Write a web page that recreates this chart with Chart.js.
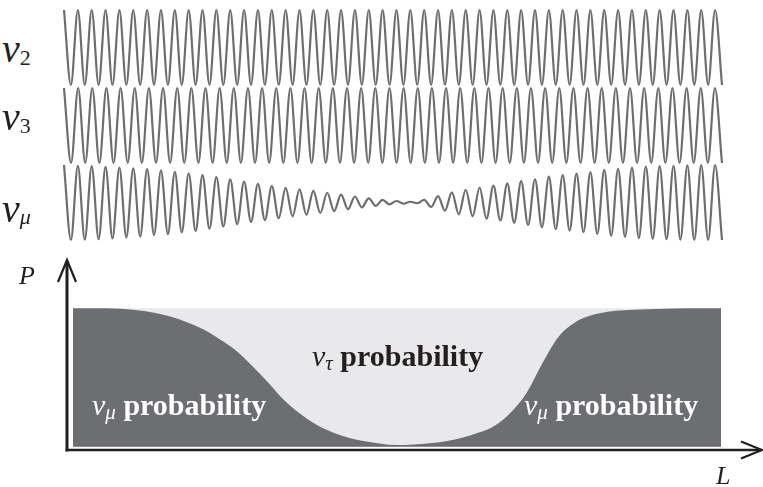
<!DOCTYPE html>
<html>
<head>
<meta charset="utf-8">
<script src="https://cdn.jsdelivr.net/npm/chart.js"></script>
<style>
  body { margin:0; background:#fff; width:763px; height:487px; overflow:hidden; position:relative; font-family:"Liberation Serif","Times New Roman",serif; }
  canvas { position:absolute; }
  .t { position:absolute; line-height:1; white-space:nowrap; color:#231f20; z-index:5; }
  .t i { font-style:italic; }
  .sub { position:relative; }
  .w { color:#fff; }
</style>
</head>
<body>
<canvas id="w2" width="666" height="95" style="left:60px;top:0px"></canvas>
<canvas id="w3" width="666" height="95" style="left:60px;top:78px"></canvas>
<canvas id="wmu" width="666" height="95" style="left:60px;top:155px"></canvas>
<canvas id="prob" width="763" height="237" style="left:0px;top:250px"></canvas>

<div class="t" style="left:2px;top:29px;font-size:40px"><i>ν</i><span class="sub" style="font-size:22px;top:3px">2</span></div>
<div class="t" style="left:2px;top:97px;font-size:40px"><i>ν</i><span class="sub" style="font-size:22px;top:3px">3</span></div>
<div class="t" style="left:2px;top:189px;font-size:40px"><i>ν</i><i class="sub" style="font-size:22px;top:2px">μ</i></div>

<div class="t" style="left:19px;top:263px;font-size:26px"><i>P</i></div>
<div class="t" style="left:716px;top:463px;font-size:26px"><i>L</i></div>

<div class="t w" style="left:92px;top:390px;font-size:30px"><i>ν</i><i class="sub" style="font-size:21px;top:4px">μ</i> <b>probability</b></div>
<div class="t w" style="left:524px;top:390px;font-size:30px"><i>ν</i><i class="sub" style="font-size:21px;top:4px">μ</i> <b>probability</b></div>
<div class="t" style="left:312px;top:341px;font-size:30px"><i>ν</i><i class="sub" style="font-size:21px;top:4px">τ</i> <b>probability</b></div>

<script>
// extrema of each wave, one value per half period (peak = 1, trough = -1)
const nu2Wave = [
  1,-1,1,-1,1,-1,1,-1,1,-1,1,-1,1,-1,1,-1,1,-1,1,-1,1,-1,1,-1,
  1,-1,1,-1,1,-1,1,-1,1,-1,1,-1,1,-1,1,-1,1,-1,1,-1,1,-1,1,-1,
  1,-1,1,-1,1,-1,1,-1,1,-1,1,-1,1,-1,1,-1,1,-1,1,-1,1,-1,1,-1,
  1,-1,1,-1,1,-1,1,-1,1,-1,1,-1,1,-1,1,-1,1,-1,1,-1,1,-1,1,-1
];
const nu3Wave = [
  1,-1,1,-1,1,-1,1,-1,1,-1,1,-1,1,-1,1,-1,1,-1,1,-1,1,-1,1,-1,
  1,-1,1,-1,1,-1,1,-1,1,-1,1,-1,1,-1,1,-1,1,-1,1,-1,1,-1,1,-1,
  1,-1,1,-1,1,-1,1,-1,1,-1,1,-1,1,-1,1,-1,1,-1,1,-1,1,-1,1,-1,
  1,-1,1,-1,1,-1,1,-1,1,-1,1,-1,1,-1,1,-1,1,-1,1,-1,1,-1
];
// nu_mu = beat of the two, read peak by peak
const numuWave = [
  1.00,-1.00,0.98,-0.99,0.97,-0.98,0.95,-0.96,0.93,-0.93,0.91,-0.91,
  0.89,-0.87,0.86,-0.84,0.82,-0.80,0.78,-0.76,0.73,-0.70,0.68,-0.64,
  0.62,-0.58,0.56,-0.52,0.50,-0.47,0.44,-0.42,0.39,-0.37,0.35,-0.33,
  0.31,-0.28,0.26,-0.23,0.21,-0.18,0.16,-0.13,0.11,-0.09,0.07,-0.05,
  0.04,-0.03,0.02,-0.02,0.07,-0.12,0.17,-0.22,0.27,-0.31,0.34,-0.37,
  0.40,-0.43,0.45,-0.48,0.51,-0.54,0.57,-0.60,0.62,-0.66,0.69,-0.71,
  0.73,-0.75,0.77,-0.79,0.81,-0.84,0.87,-0.89,0.90,-0.92,0.93,-0.95,
  0.96,-0.97,0.97,-0.98,0.98,-0.99,0.99,-1.00,1.00,-1.00,1.00,-1.00
];

// probability vs distance (L in % of the drawn length)
const distL  = [0,5,10,15,20,22.5,25,27.5,30,32.5,35,37.5,40,42.5,45,50,55,57.5,60,62.5,65,67.5,70,72.5,75,77.5,80,82.5,85,90,95,100];
const probMu = [1.0,1.0,0.985,0.94,0.85,0.78,0.70,0.59,0.47,0.34,0.24,0.16,0.105,0.065,0.04,0.012,0.025,0.04,0.065,0.10,0.15,0.245,0.39,0.61,0.80,0.90,0.95,0.975,0.985,0.995,1.0,1.0];
const probTop = [1,1];
const probTopL = [0,100];

const waveColor = '#6e6e6e';
const darkGray = '#6d6e71';
const lightGray = '#e9e9eb';
const axisColor = '#231f20';

function makeWave(id, values){
    new Chart(document.getElementById(id), {
        type:'line',
        data:{
            labels: values.map((v,i)=>i),
            datasets:[{
                data: values,
                borderColor: waveColor,
                borderWidth: 2.2,
                pointRadius: 0,
                cubicInterpolationMode: 'monotone',
                fill: false
            }]
        },
        options:{
            responsive:false,
            animation:false,
            events:[],
            layout:{ padding:{left:4, right:4, top:0, bottom:0} },
            plugins:{ legend:{display:false}, tooltip:{enabled:false} },
            scales:{
                x:{ display:false },
                y:{ display:false, min:-1.2667, max:1.2667 }
            }
        }
    });
}

makeWave('w2', nu2Wave);
makeWave('w3', nu3Wave);
makeWave('wmu', numuWave);

// axes with open arrow heads
const arrowAxes = {
    id:'arrowAxes',
    afterDraw(chart){
        const {ctx, chartArea:a} = chart;
        ctx.save();
        ctx.strokeStyle = axisColor;
        ctx.lineCap = 'butt';
        ctx.lineWidth = 3;
        ctx.beginPath();
        ctx.moveTo(a.left, a.bottom + 1.5);
        ctx.lineTo(a.left, a.top + 1);
        ctx.stroke();
        ctx.lineWidth = 2.5;
        ctx.beginPath();
        ctx.moveTo(a.left - 1.5, a.bottom);
        ctx.lineTo(a.right - 1, a.bottom);
        ctx.stroke();
        ctx.lineWidth = 2.2;
        ctx.lineJoin = 'miter';
        ctx.beginPath();
        ctx.moveTo(a.left - 9, a.top + 22);
        ctx.lineTo(a.left, a.top);
        ctx.lineTo(a.left + 9, a.top + 22);
        ctx.stroke();
        ctx.beginPath();
        ctx.moveTo(a.right - 21, a.bottom - 8.5);
        ctx.lineTo(a.right, a.bottom);
        ctx.lineTo(a.right - 21, a.bottom + 8.5);
        ctx.stroke();
        ctx.restore();
    }
};

new Chart(document.getElementById('prob'), {
    type:'line',
    data:{
        datasets:[
            {
                data: distL.map((l,i)=>({x:l, y:probMu[i]})),
                backgroundColor: darkGray,
                borderWidth: 0,
                pointRadius: 0,
                cubicInterpolationMode: 'monotone',
                fill: 'origin',
                order: 1
            },
            {
                data: probTopL.map((l,i)=>({x:l, y:probTop[i]})),
                backgroundColor: lightGray,
                borderWidth: 0,
                pointRadius: 0,
                fill: 'origin',
                order: 2
            }
        ]
    },
    options:{
        responsive:false,
        animation:false,
        events:[],
        layout:{ padding:{left:67, right:1, top:10, bottom:37} },
        plugins:{ legend:{display:false}, tooltip:{enabled:false} },
        scales:{
            x:{ type:'linear', display:false, min:-0.93, max:106.3 },
            y:{ display:false, min:-0.024, max:1.349 }
        }
    },
    plugins:[arrowAxes]
});
</script>
</body>
</html>
